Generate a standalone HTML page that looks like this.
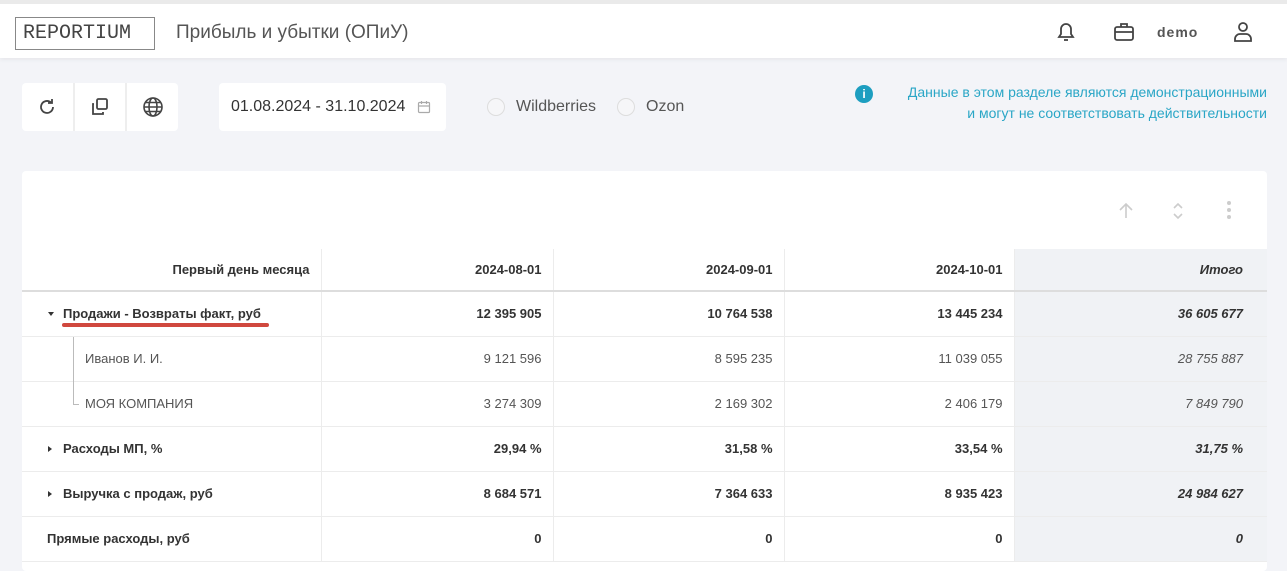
<!DOCTYPE html>
<html><head><meta charset="utf-8"><style>
*{box-sizing:border-box;margin:0;padding:0}
body{width:1287px;height:554px;overflow:hidden;background:#f3f4f8;font-family:"Liberation Sans","Noto Sans CJK SC",sans-serif;color:#333;position:relative}
.top{position:absolute;left:0;top:0;width:1287px;height:58px;background:#fff;border-top:4px solid #eaeaea;box-shadow:0 2px 4px rgba(0,0,0,0.05)}
.logo{position:absolute;left:15px;top:13px;width:140px;height:33px;border:1.5px solid #888;font-family:"Liberation Mono",monospace;font-size:20px;letter-spacing:0px;color:#444;padding:4px 0 0 7px}
.title{position:absolute;left:176px;top:18px;font-size:19px;color:#555}
.abs{position:absolute}
.btns{position:absolute;left:22px;top:83px;width:156px;height:48px;background:#fff;border-radius:4px;display:flex}
.btns div{flex:1;border-right:2px solid #eee;display:flex;align-items:center;justify-content:center}
.btns div:last-child{border:none}
.date{position:absolute;left:219px;top:83px;width:227px;height:48px;background:#fff;border-radius:4px;font-size:16px;color:#333;padding:0 0 0 12px;display:flex;align-items:center}
.radio{position:absolute;width:18px;height:18px;border:1px solid #ddd;border-radius:50%;background:#f6f6f8}
.info{position:absolute;right:20px;top:82px;text-align:right;color:#2aa6c6;font-size:14px;line-height:21px}
.card{position:absolute;left:22px;top:171px;width:1245px;height:400px;background:#fff;border-radius:4px}
table{position:absolute;left:0;top:78px;border-collapse:collapse;width:1245px;font-size:13px}
td{height:45px;border-bottom:1px solid #ececec;border-right:1px solid #ececec;text-align:right;padding-right:11px;color:#333}
tr.h td{height:42px;font-weight:bold;border-bottom:2px solid #ddd}
td.l{text-align:left;padding-left:41px}
td.t{background:#f0f2f5;font-style:italic;padding-right:24px;border-right:none}
tr.h td.t,.b td.t{font-weight:bold}
.b td{font-weight:bold}
.s td{color:#555}
.tri{position:absolute;left:26px;top:50%;width:0;height:0}
.down{border-left:3.5px solid transparent;border-right:3.5px solid transparent;border-top:4px solid #333;margin-top:-2px}
.right{border-top:3.5px solid transparent;border-bottom:3.5px solid transparent;border-left:4px solid #333;margin-top:-3px}
</style></head><body>
<div class="top">
<div class="logo">REPORTIUM</div>
<div class="title">Прибыль и убытки (ОПиУ)</div>
<svg class="abs" style="left:1055px;top:16px" width="22" height="24" viewBox="0 0 22 24" fill="none" stroke="#444" stroke-width="1.8"><path d="M4 17h14l-2-3V9a5 5 0 0 0-10 0v5z"/><path d="M9 20h4"/></svg>
<svg class="abs" style="left:1113px;top:18px" width="22" height="20" viewBox="0 0 22 20" fill="none" stroke="#444" stroke-width="1.8"><rect x="2" y="5" width="18" height="13" rx="2"/><path d="M8 5V2h6v3M2 10h18"/></svg>
<div class="abs" style="left:1157px;top:20px;font-size:14px;font-weight:bold;color:#555;letter-spacing:1px">demo</div>
<svg class="abs" style="left:1233px;top:16px" width="20" height="24" viewBox="0 0 20 24" fill="none" stroke="#444" stroke-width="1.8"><circle cx="10" cy="7" r="4"/><path d="M2 21v-2a5 5 0 0 1 5-5h6a5 5 0 0 1 5 5v2z"/></svg>
</div>
<div class="btns">
<div><svg width="20" height="20" viewBox="0 0 20 20" fill="none" stroke="#444" stroke-width="1.8"><path d="M16 10a6 6 0 1 1-2-4.5"/><path d="M15 2v4h-4"/></svg></div>
<div><svg width="20" height="20" viewBox="0 0 20 20" fill="none" stroke="#444" stroke-width="1.8"><rect x="7" y="2" width="10" height="10" rx="1.5"/><path d="M4 7H3v10h10v-2"/></svg></div>
<div><svg width="22" height="22" viewBox="0 0 22 22" fill="none" stroke="#444" stroke-width="1.6"><circle cx="11" cy="11" r="9"/><ellipse cx="11" cy="11" rx="4" ry="9"/><path d="M2 11h18M3.5 6.5h15M3.5 15.5h15"/></svg></div>
</div>
<div class="date">01.08.2024 - 31.10.2024 <svg style="margin-left:12px" width="14" height="14" viewBox="0 0 14 14" fill="none" stroke="#aaa" stroke-width="1.2"><rect x="1.5" y="2.5" width="11" height="10" rx="1"/><path d="M1.5 6h11M4.5 1v3M9.5 1v3"/></svg></div>
<div class="radio" style="left:487px;top:98px"></div>
<div class="abs" style="left:516px;top:98px;font-size:16px;color:#555">Wildberries</div>
<div class="radio" style="left:617px;top:98px"></div>
<div class="abs" style="left:646px;top:98px;font-size:16px;color:#555">Ozon</div>
<div class="abs" style="left:855px;top:85px;width:18px;height:18px;border-radius:50%;background:#1d9ec0;color:#fff;font-size:12px;font-weight:bold;text-align:center;line-height:18px">i</div>
<div class="info">Данные в этом разделе являются демонстрационными<br>и могут не соответствовать действительности</div>
<div class="card">
<svg class="abs" style="left:1094px;top:30px" width="20" height="20" viewBox="0 0 20 20" fill="none" stroke="#ccc" stroke-width="1.6"><path d="M10 17V3M4 9l6-6 6 6"/></svg>
<svg class="abs" style="left:1146px;top:28px" width="20" height="24" viewBox="0 0 20 24" fill="none" stroke="#ccc" stroke-width="1.6"><path d="M6 9l4-4 4 4M6 15l4 4 4-4"/></svg>
<div class="abs" style="left:1205px;top:30px;width:4px">
<div style="width:4px;height:4px;border-radius:50%;background:#ccc;margin-bottom:3px"></div><div style="width:4px;height:4px;border-radius:50%;background:#ccc;margin-bottom:3px"></div><div style="width:4px;height:4px;border-radius:50%;background:#ccc"></div></div>
<table>
<colgroup><col style="width:299px"><col style="width:232px"><col style="width:231px"><col style="width:230px"><col style="width:253px"></colgroup>
<tr class="h"><td>Первый день месяца</td><td>2024-08-01</td><td>2024-09-01</td><td>2024-10-01</td><td class="t">Итого</td></tr>
<tr class="b"><td class="l" style="position:relative"><span class="tri down"></span>Продажи - Возвраты факт, руб<div style="position:absolute;left:40px;top:31px;width:207px;height:4px;border-radius:2px;background:#d0483e"></div></td><td>12 395 905</td><td>10 764 538</td><td>13 445 234</td><td class="t">36 605 677</td></tr>
<tr class="s"><td class="l" style="padding-left:63px;position:relative"><div style="position:absolute;left:51px;top:0;height:45px;border-left:1px solid #bbb"></div>Иванов И. И.</td><td>9 121 596</td><td>8 595 235</td><td>11 039 055</td><td class="t">28 755 887</td></tr>
<tr class="s"><td class="l" style="padding-left:63px;position:relative"><div style="position:absolute;left:51px;top:0;height:23px;width:6px;border-left:1px solid #bbb;border-bottom:1px solid #bbb"></div>МОЯ КОМПАНИЯ</td><td>3 274 309</td><td>2 169 302</td><td>2 406 179</td><td class="t">7 849 790</td></tr>
<tr class="b"><td class="l" style="position:relative"><span class="tri right"></span>Расходы МП, %</td><td>29,94 %</td><td>31,58 %</td><td>33,54 %</td><td class="t">31,75 %</td></tr>
<tr class="b"><td class="l" style="position:relative"><span class="tri right"></span>Выручка с продаж, руб</td><td>8 684 571</td><td>7 364 633</td><td>8 935 423</td><td class="t">24 984 627</td></tr>
<tr class="b"><td class="l" style="padding-left:25px">Прямые расходы, руб</td><td>0</td><td>0</td><td>0</td><td class="t">0</td></tr>
</table>
</div>
</body></html>
